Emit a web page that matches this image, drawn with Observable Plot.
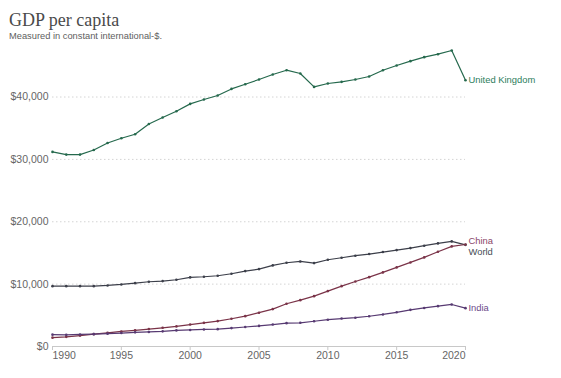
<!DOCTYPE html>
<html>
<head>
<meta charset="utf-8">
<script src="https://cdn.jsdelivr.net/npm/d3@7"></script>
<script src="https://cdn.jsdelivr.net/npm/@observablehq/plot@0.6"></script>
<style>
  html, body { margin: 0; padding: 0; background: #fff; }
  body { width: 561px; height: 378px; position: relative; overflow: hidden; font-family: "Liberation Sans", Arial, sans-serif; }
  #title { position: absolute; left: 9px; top: 11px; font-family: "Liberation Serif", Georgia, serif; font-size: 18px; line-height: 18px; color: #4a4a4a; white-space: nowrap; }
  #subtitle { position: absolute; left: 9px; top: 31.5px; font-size: 9.3px; line-height: 9.3px; color: #5e5e5e; white-space: nowrap; }
  #chart { position: absolute; left: 0; top: 40px; }
</style>
</head>
<body>
<div id="title">GDP per capita</div>
<div id="subtitle">Measured in constant international-$.</div>
<div id="chart"></div>
<script>
const years = d3.range(1990, 2021);
const ukValues = [31200, 30770, 30770, 31500, 32630, 33390, 34030, 35680, 36710, 37720, 38900, 39600, 40240, 41300, 42050, 42810, 43610, 44300, 43770, 41620, 42170, 42430, 42810, 43290, 44300, 45050, 45750, 46390, 46870, 47460, 42700];
const worldValues = [9680, 9680, 9680, 9680, 9790, 9950, 10160, 10380, 10490, 10700, 11080, 11180, 11340, 11660, 12090, 12410, 13000, 13430, 13640, 13370, 13910, 14230, 14560, 14820, 15140, 15460, 15780, 16160, 16530, 16850, 16300];
const chinaValues = [1420, 1550, 1750, 1980, 2180, 2410, 2600, 2800, 3000, 3220, 3520, 3790, 4070, 4450, 4870, 5420, 6000, 6850, 7430, 8070, 8880, 9680, 10430, 11120, 11880, 12680, 13480, 14290, 15200, 16050, 16350];
const indiaValues = [1900, 1870, 1930, 1980, 2060, 2160, 2270, 2330, 2430, 2580, 2650, 2730, 2780, 2950, 3130, 3300, 3520, 3740, 3800, 4050, 4300, 4480, 4620, 4850, 5140, 5480, 5880, 6180, 6470, 6740, 6150];
const yTicks = [0, 10000, 20000, 30000, 40000];
const xTicks = [1990, 1995, 2000, 2005, 2010, 2015, 2020];

const series = [
  {name: "United Kingdom", values: ukValues, line: "#25694d", label: "#2c7d5c", dy: 0},
  {name: "World", values: worldValues, line: "#3c3f4a", label: "#464c55", dy: 7},
  {name: "China", values: chinaValues, line: "#7a3348", label: "#8a4668", dy: -4},
  {name: "India", values: indiaValues, line: "#573a72", label: "#6c4a8a", dy: 0}
];
const rows = series.flatMap(s => years.map((year, i) => ({country: s.name, year, value: s.values[i]})));
const lastRows = series.map(s => ({country: s.name, year: years[years.length - 1], value: s.values[s.values.length - 1], color: s.label, dy: s.dy}));
const maxV = d3.max(rows, d => d.value);
const fmt = d3.format(",");

const marks = [
  Plot.gridY(yTicks.filter(d => d > 0), {stroke: "#d4d4d4", strokeOpacity: 1, strokeDasharray: "1.5,2.5"}),
  Plot.axisY(yTicks, {tickSize: 0, tickPadding: 4, tickFormat: d => "$" + fmt(d), fontSize: 10.5, fill: "#666", label: null}),
  Plot.ruleY([0], {stroke: "#c8c8c8", strokeWidth: 1}),
  Plot.axisX(xTicks, {tickSize: 4, tickFormat: () => "", stroke: "#c8c8c8", label: null}),
  Plot.text([1990], {x: d => d, frameAnchor: "bottom", dy: 12, text: d => String(d), textAnchor: "start", fontSize: 10.5, fill: "#666"}),
  Plot.text(xTicks.slice(1, -1), {x: d => d, frameAnchor: "bottom", dy: 12, text: d => String(d), textAnchor: "middle", fontSize: 10.5, fill: "#666"}),
  Plot.text([2020], {x: d => d, frameAnchor: "bottom", dy: 12, text: d => String(d), textAnchor: "end", fontSize: 10.5, fill: "#666"})
];
for (const s of series) {
  const data = rows.filter(d => d.country === s.name);
  marks.push(Plot.line(data, {x: "year", y: "value", stroke: s.line, strokeWidth: 1.2}));
  marks.push(Plot.dot(data, {x: "year", y: "value", r: 1.3, fill: s.line, stroke: "none"}));
}
for (const r of lastRows) {
  marks.push(Plot.text([r], {x: "year", y: "value", text: "country", dx: 3, dy: r.dy, textAnchor: "start", fontSize: 9.4, fill: r.color}));
}

const chart = Plot.plot({
  width: 561,
  height: 330,
  marginLeft: 52,
  marginRight: 96,
  marginTop: 10,
  marginBottom: 24,
  style: {fontFamily: "'Liberation Sans', Arial, sans-serif", background: "#fff", overflow: "visible"},
  x: {domain: [1990, 2020], axis: null},
  y: {domain: [0, maxV], axis: null},
  marks
});
document.getElementById("chart").appendChild(chart);
</script>
</body>
</html>
